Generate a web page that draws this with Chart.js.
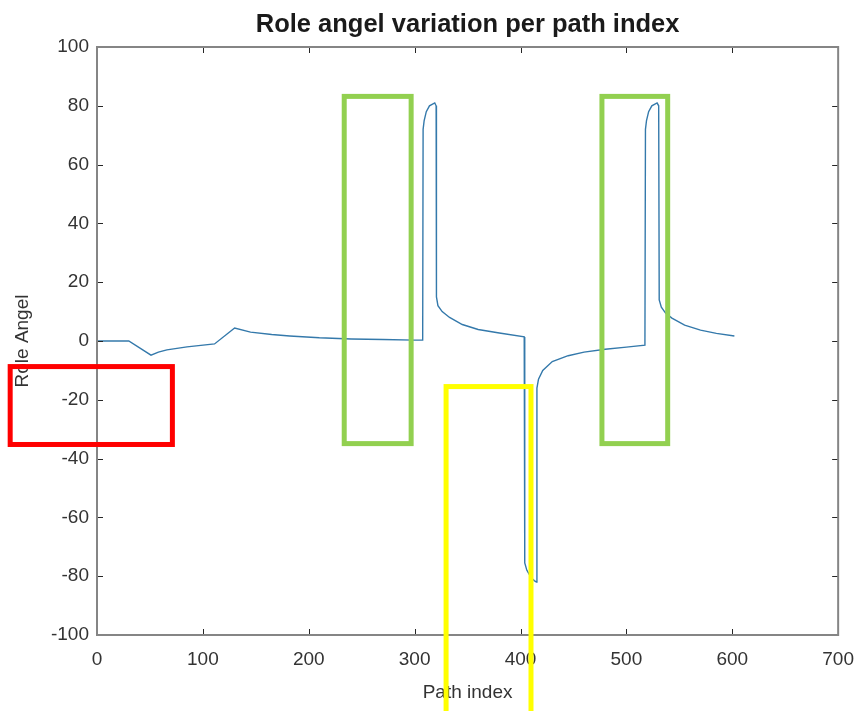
<html lang="en">
<head>
    <meta charset="UTF-8">
    <title>Role angel variation per path index</title>
    <script src="https://cdn.jsdelivr.net/npm/chart.js"></script>
    <style>
        body { margin: 0; background: #fff; }
        #wrap { width: 859px; height: 711px; }
    </style>
</head>
<body>
<div id="wrap">
    <canvas id="roleChart"></canvas>
</div>

<script>
    // data
    const pathIndex = [0, 30, 51, 58, 66, 85, 111, 130, 145, 165, 182, 210, 240, 270, 300, 307.6,
        308, 309, 311, 314, 319, 320.3, 320.6, 322, 326, 333, 345, 360, 380, 403.5,
        404, 406, 410, 413, 415, 415.5, 417, 421, 430, 445, 460, 480, 500, 517.5,
        518, 519, 521, 524, 529, 530.5, 531, 533, 537, 543, 555, 570, 585, 602];
    const roleAngel = [0, 0, -4.8, -3.8, -3, -2, -1, 4.4, 3, 2.2, 1.7, 1.1, 0.7, 0.5, 0.3, 0.3,
        72, 75, 78, 80, 81, 80, 15, 12, 10, 8, 5.6, 3.9, 2.7, 1.4,
        -75.5, -78, -80.5, -81.5, -82, -16, -13, -10, -7, -5, -3.8, -2.8, -2.1, -1.4,
        72, 75, 78, 80, 81, 80, 14, 11.5, 9.5, 7.8, 5.4, 3.7, 2.6, 1.7];
    const xTicks = [0, 100, 200, 300, 400, 500, 600, 700];
    const yTicks = [-100, -80, -60, -40, -20, 0, 20, 40, 60, 80, 100];

    // highlight boxes drawn on top of the figure (in data units)
    const boxXMin = [-82, 233.5, 329.7, 476.9];
    const boxXMax = [71.2, 296.7, 409.9, 539];
    const boxYMin = [-35.2, -34.9, -130, -34.9];
    const boxYMax = [-8.7, 83.2, -15.5, 83.2];
    const boxColors = ['#ff0000', '#92d050', '#ffff00', '#92d050'];

    const points = pathIndex.map((x, i) => ({ x: x, y: roleAngel[i] }));
    const FONT = "'Liberation Sans', Arial, sans-serif";

    // matlab style box with inward ticks
    const boxAxes = {
        id: 'boxAxes',
        afterDatasetsDraw(chart) {
            const { ctx, chartArea: a, scales } = chart;
            const len = 6;
            ctx.save();
            ctx.strokeStyle = '#262626';
            ctx.lineWidth = 1;
            xTicks.forEach(v => {
                const px = Math.round(scales.x.getPixelForValue(v)) + 0.5;
                ctx.beginPath();
                ctx.moveTo(px, a.bottom); ctx.lineTo(px, a.bottom - len);
                ctx.moveTo(px, a.top); ctx.lineTo(px, a.top + len);
                ctx.stroke();
            });
            yTicks.forEach(v => {
                const py = Math.round(scales.y.getPixelForValue(v)) + 0.5;
                ctx.beginPath();
                ctx.moveTo(a.left, py); ctx.lineTo(a.left + len, py);
                ctx.moveTo(a.right, py); ctx.lineTo(a.right - len, py);
                ctx.stroke();
            });
            ctx.strokeStyle = '#858585';
            ctx.lineWidth = 2;
            ctx.strokeRect(a.left, a.top, a.right - a.left, a.bottom - a.top);
            ctx.restore();
        },
        afterDraw(chart) {
            const { ctx, scales } = chart;
            ctx.save();
            ctx.lineWidth = 5;
            boxColors.forEach((c, i) => {
                const x1 = scales.x.getPixelForValue(boxXMin[i]);
                const x2 = scales.x.getPixelForValue(boxXMax[i]);
                const y1 = scales.y.getPixelForValue(boxYMax[i]);
                const y2 = scales.y.getPixelForValue(boxYMin[i]);
                ctx.strokeStyle = c;
                ctx.strokeRect(x1, y1, x2 - x1, y2 - y1);
            });
            ctx.restore();
        }
    };

    const config = {
        type: 'line',
        data: {
            datasets: [{
                data: points,
                borderColor: '#3479ab',
                borderWidth: 1.4,
                pointRadius: 0,
                tension: 0,
                fill: false
            }]
        },
        options: {
            responsive: true,
            maintainAspectRatio: false,
            animation: false,
            layout: { padding: { left: 0, right: 20, top: 0, bottom: 0 } },
            plugins: {
                legend: { display: false },
                tooltip: { enabled: false },
                title: {
                    display: true,
                    fullSize: false,
                    text: 'Role angel variation per path index',
                    color: '#1a1a1a',
                    font: { family: FONT, size: 25.5, weight: 'bold' },
                    padding: { top: 10, bottom: 6.4 }
                }
            },
            scales: {
                x: {
                    type: 'linear',
                    min: 0,
                    max: 700,
                    afterBuildTicks: s => { s.ticks = xTicks.map(v => ({ value: v })); },
                    afterFit: s => { s.height = 76; },
                    grid: { display: false },
                    border: { display: false },
                    ticks: { color: '#333', padding: 5, font: { family: FONT, size: 19 } },
                    title: {
                        display: true,
                        text: 'Path index',
                        color: '#333',
                        font: { family: FONT, size: 19 },
                        padding: { top: 0, bottom: 7 }
                    }
                },
                y: {
                    type: 'linear',
                    min: -100,
                    max: 100,
                    afterBuildTicks: s => { s.ticks = yTicks.map(v => ({ value: v })); },
                    afterFit: s => { s.width = 97; },
                    grid: { display: false },
                    border: { display: false },
                    ticks: { color: '#333', padding: 0, font: { family: FONT, size: 19 } },
                    title: {
                        display: true,
                        text: 'Role Angel',
                        color: '#333',
                        font: { family: FONT, size: 19 },
                        padding: { top: 11, bottom: 0 }
                    }
                }
            }
        },
        plugins: [boxAxes]
    };

    let chart;
    function initChart() {
        const ctx = document.getElementById('roleChart').getContext('2d');
        chart = new Chart(ctx, config);
    }

    window.onload = initChart;
</script>
</body>
</html>
